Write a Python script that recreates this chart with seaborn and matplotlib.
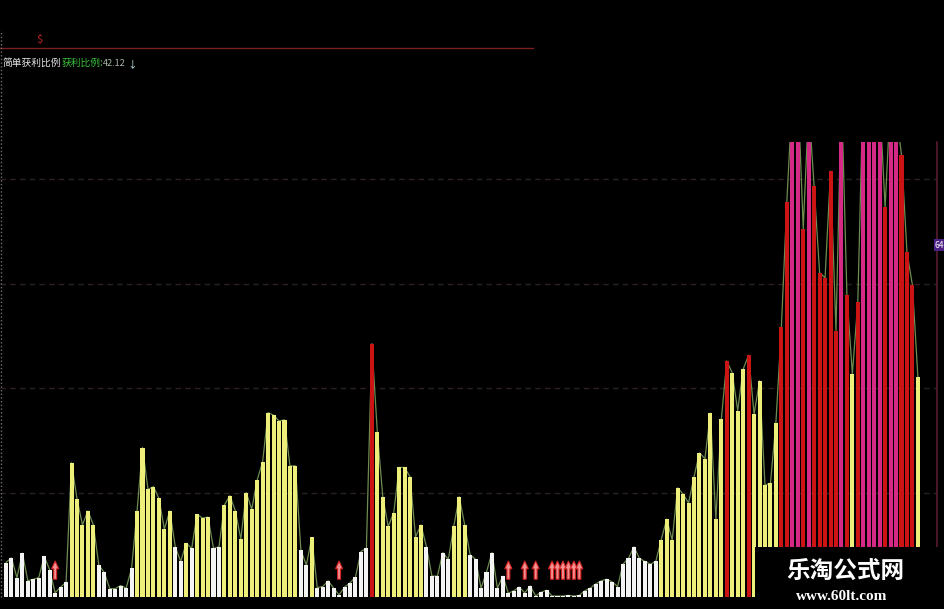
# ========== Librerias ==========
import numpy as np
import pandas as pd
import matplotlib.pyplot as plt
from matplotlib.patches import Rectangle
from matplotlib.lines import Line2D
import seaborn as sns

# ========== Datos ==========
# valores de 获利比例 leidos barra por barra (0..167)
vals = [6.6, 7.5, 3.7, 8.4, 3.1, 3.4, 3.7, 7.8, 5.2, 0.8,
        1.9, 2.8, 25.7, 18.8, 13.8, 16.5, 13.8, 6.1, 4.7, 1.6,
        1.6, 2.2, 1.7, 5.5, 16.5, 28.6, 20.6, 21.1, 18.9, 13.0,
        16.5, 9.6, 6.8, 10.3, 9.3, 15.8, 15.1, 15.3, 9.3, 9.6,
        17.6, 19.4, 16.5, 11.1, 20.0, 16.8, 22.4, 25.9, 35.3, 34.8,
        33.7, 33.9, 25.1, 25.1, 9.0, 6.1, 11.4, 1.8, 2.0, 3.1,
        1.7, 0.4, 1.9, 2.7, 3.8, 8.7, 9.3, 48.5, 31.6, 19.2,
        13.5, 16.1, 24.8, 24.8, 23.0, 11.5, 13.8, 9.6, 4.0, 4.0,
        8.5, 7.2, 13.5, 19.2, 13.8, 8.1, 7.2, 1.7, 4.8, 8.5,
        1.7, 4.0, 0.7, 1.2, 1.9, 0.8, 2.1, 0.2, 0.9, 1.3,
        0.2, 0.2, 0.2, 0.3, 0.2, 0.3, 1.2, 1.7, 2.5, 3.1,
        3.4, 2.9, 2.0, 6.3, 7.4, 9.6, 7.4, 6.8, 6.3, 6.8,
        11.0, 14.9, 10.9, 20.9, 19.7, 18.0, 23.0, 27.6, 26.5, 35.2,
        14.9, 34.0, 45.2, 42.9, 35.7, 43.6, 46.3, 35.0, 41.4, 21.4,
        21.8, 33.4, 51.7, 75.6, 96.0, 98.0, 70.5, 94.0, 78.6, 62.1,
        61.1, 81.5, 51.0, 97.0, 57.9, 42.7, 56.5, 99.0, 100.0, 98.0,
        95.0, 74.6, 96.0, 93.0, 84.6, 66.0, 59.7, 42.12]

# barras con flecha roja
arrow_idx = [9, 61, 92, 95, 97, 100, 101, 102, 103, 104, 105]

grid_lv = [20, 40, 60, 80]
title_txt = "简单获利比例"
label_txt = "获利比例:"
last_txt = "42.12"
side_lbl = "64"
wm_big = "乐淘公式网"
wm_small = "www.60lt.com"

# ---------- Colores ----------
colors = {'bajo': '#f4f4f4', 'medio': '#eeee7a', 'alto': '#cc1414', 'max': '#d42a86'}

def nivel(v):
    if v < 10:
        return 'bajo'
    if v < 44.5:
        return 'medio'
    if v < 86:
        return 'alto'
    return 'max'

df = pd.DataFrame({'idx': np.arange(len(vals)), 'val': vals})
df['cls'] = df['val'].apply(nivel)

# ========== Grafico ==========
plt.rcParams['font.family'] = ['Noto Sans CJK SC', 'DejaVu Sans']

W, H = 945, 609
fig = plt.figure(figsize=(W / 100, H / 100), dpi=100, facecolor='black')
ax = fig.add_axes([0, 12 / H, 937 / W, 455 / H], facecolor='black')

for g in grid_lv:
    ax.axhline(g, color='#2c2020', lw=1, ls=(0, (4, 3)), zorder=0)

sns.lineplot(data=df, x='idx', y='val', color='#6e8c50', lw=0.9, ax=ax, zorder=1)
sns.barplot(data=df, x='idx', y='val', hue='cls', palette=colors, dodge=False,
            width=0.74, saturation=1, legend=False, linewidth=0, ax=ax, zorder=2)

for i in arrow_idx:
    ax.arrow(i, 3.4, 0, 3.5, width=0.55, head_width=1.3, head_length=1.5,
             length_includes_head=True, fc='#f29090', ec='#d42020', lw=0.8, zorder=4)

ax.set_xlim(-1.1, 170.5)
ax.set_ylim(0, 87.1)
ax.set_xticks([])
ax.set_yticks([])
ax.set_xlabel('')
ax.set_ylabel('')
for s in ['top', 'bottom', 'left']:
    ax.spines[s].set_visible(False)
ax.spines['right'].set_color('#5a1a30')
ax.spines['right'].set_linewidth(1.2)

# ---------- Cabecera ----------
fig.add_artist(Line2D([0, 533 / W], [1 - 48 / H] * 2, color='#7a2020', lw=1))
fig.add_artist(Line2D([1.5 / W] * 2, [12 / H, 1 - 30 / H], color='#707070', lw=1, ls=':'))
fig.text(36 / W, 1 - 40 / H, '$', color='#c02020', fontsize=8, va='center')
fig.text(3 / W, 1 - 63 / H, title_txt, color='#e6e6e6', fontsize=7, va='center')
fig.text(62 / W, 1 - 63 / H, label_txt, color='#3cc43c', fontsize=7, va='center')
fig.text(103 / W, 1 - 63 / H, last_txt, color='#a8b8a8', fontsize=6.5, va='center')
fig.text(127 / W, 1 - 64 / H, '↓', color='#c8e8f0', fontsize=7, va='center')

# etiqueta lateral
fig.text(935 / W, 1 - 245 / H, side_lbl, color='white', fontsize=6, va='center',
         bbox=dict(boxstyle='square,pad=0.15', fc='#4a2085', ec='none'))

# ---------- Marca de agua ----------
fig.add_artist(Rectangle((755 / W, 0), 190 / W, 62 / H, transform=fig.transFigure,
                         fc='black', ec='none', zorder=10))
fig.text(845 / W, 1 - 571 / H, wm_big, color='white', fontsize=17, fontweight='bold',
         ha='center', va='center', zorder=11)
fig.text(842 / W, 1 - 597 / H, wm_small, color='white', fontsize=11, fontweight='bold',
         family='Liberation Serif', ha='center', va='center', zorder=11)

fig.savefig('out.png', dpi=100, facecolor='black')
